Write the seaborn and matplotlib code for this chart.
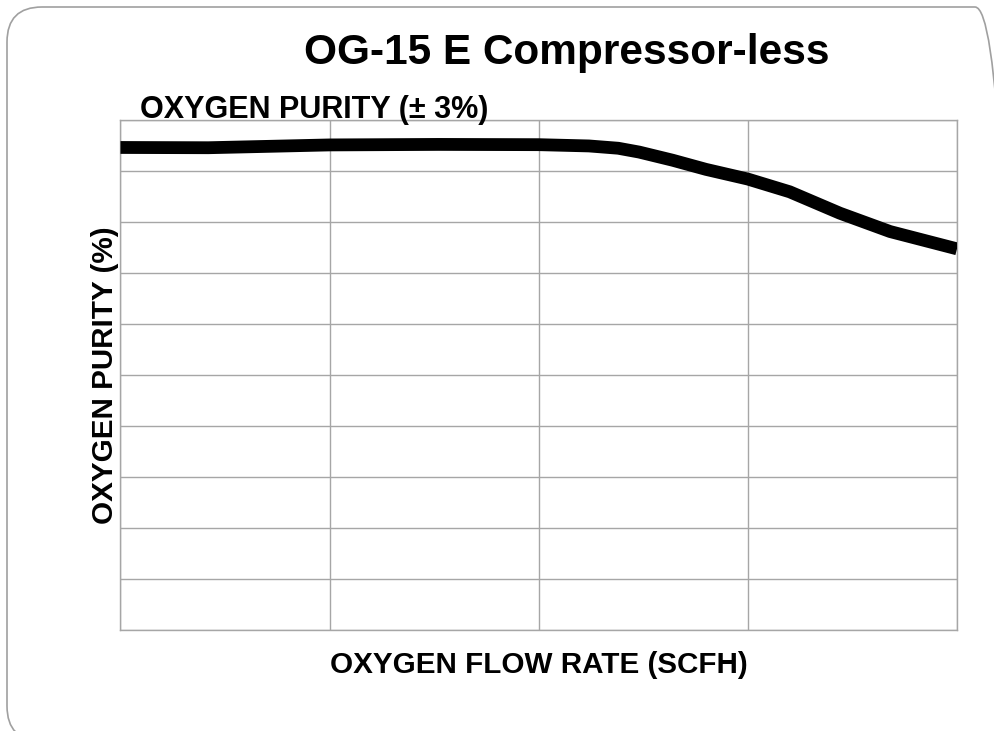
import numpy as np
import pandas as pd
import seaborn as sns
import matplotlib.pyplot as plt
from matplotlib.patches import FancyBboxPatch


## DATA (no tick labels shown)
flow = [0, 2.1, 2.9, 5.0, 7.6, 10.0, 11.2, 11.9, 12.4, 13.2, 14.0, 15.0, 16.0, 17.2, 18.4, 20.0]
purity = [94.7, 94.65, 94.8, 95.2, 95.3, 95.25, 95.0, 94.55, 93.8, 92.2, 90.4, 88.5, 86.0, 81.8, 78.2, 74.8]

title = 'OG-15 E Compressor-less'
subtitle = 'OXYGEN PURITY (± 3%)'
xlabel = 'OXYGEN FLOW RATE (SCFH)'
ylabel = 'OXYGEN PURITY (%)'

df = pd.DataFrame({'flow': flow, 'purity': purity})


## PLOT
sns.set_theme(style='white')
plt.rcParams['font.family'] = ['Liberation Sans', 'DejaVu Sans']
plt.rcParams['text.color'] = 'black'
plt.rcParams['axes.labelcolor'] = 'black'

fig = plt.figure(figsize=(9.95, 7.31), dpi=100)
ax = fig.add_axes([0.1211, 0.1382, 0.8407, 0.697])

sns.lineplot(data=df, x='flow', y='purity', ax=ax, color='black',
             linewidth=9.2, solid_capstyle='butt', solid_joinstyle='round',
             zorder=3)

ax.set_xlim(0, 20)
ax.set_ylim(0, 100)
ax.set_xticks(np.arange(0, 21, 5))
ax.set_yticks(np.arange(0, 101, 10))
ax.tick_params(length=0, labelbottom=False, labelleft=False)
ax.grid(True, color='#a6a6a6', linewidth=1.0)
for s in ax.spines.values():
    s.set_color('#a6a6a6')
    s.set_linewidth(1.0)

ax.set_xlabel(xlabel, fontsize=21.3, fontweight='bold', labelpad=15)
ax.set_ylabel(ylabel, fontsize=21.3, fontweight='bold', labelpad=1)

fig.text(0.57, 0.928, title, fontsize=30.5, fontweight='bold',
         ha='center', va='center')
fig.text(0.1407, 0.850, subtitle, fontsize=22, fontweight='bold',
         ha='left', va='center')

# rounded slide border
box = FancyBboxPatch((0.07, -0.10), 10.03, 7.34,
                     boxstyle='round,pad=0,rounding_size=0.35',
                     transform=fig.dpi_scale_trans, fill=False,
                     edgecolor='#a0a0a0', linewidth=1.2)
fig.patches.append(box)

plt.savefig('out.png', dpi=100)
